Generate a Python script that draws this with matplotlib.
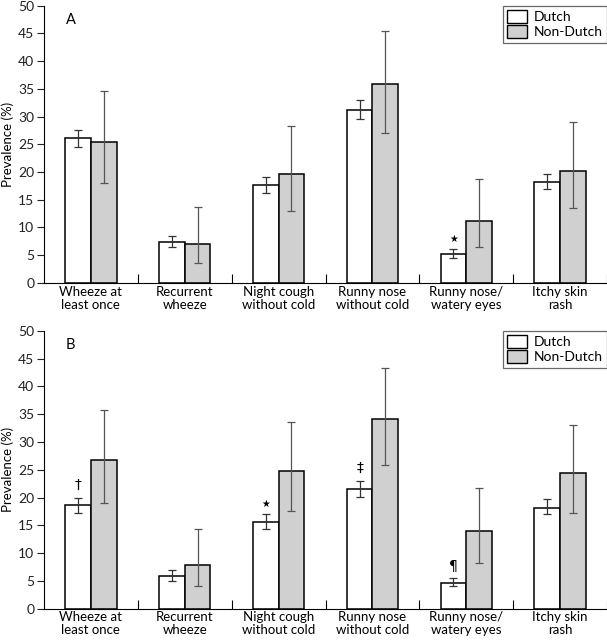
import matplotlib
matplotlib.use("Agg")
import matplotlib.pyplot as plt
import numpy as np
from matplotlib.patches import Patch

categories = ["Wheeze at\nleast once", "Recurrent\nwheeze", "Night cough\nwithout cold",
              "Runny nose\nwithout cold", "Runny nose/\nwatery eyes", "Itchy skin\nrash"]
series_names = ["Dutch", "Non-Dutch"]

# Panel A
a_dutch = [26.1, 7.4, 17.7, 31.2, 5.2, 18.2]
a_dutch_lo = [24.5, 6.5, 16.3, 29.5, 4.4, 16.9]
a_dutch_hi = [27.6, 8.4, 19.1, 33.0, 6.1, 19.7]
a_non = [25.4, 7.1, 19.6, 35.8, 11.2, 20.2]
a_non_lo = [18.0, 3.6, 13.0, 27.1, 6.4, 13.6]
a_non_hi = [34.7, 13.7, 28.3, 45.5, 18.8, 29.0]
a_marks = ["", "", "", "", "\u2605", ""]

# Panel B
b_dutch = [18.6, 5.9, 15.6, 21.5, 4.7, 18.2]
b_dutch_lo = [17.3, 5.0, 14.4, 20.1, 4.0, 17.0]
b_dutch_hi = [20.0, 6.9, 17.0, 23.0, 5.5, 19.7]
b_non = [26.8, 7.8, 24.8, 34.2, 14.0, 24.4]
b_non_lo = [19.1, 4.0, 17.6, 25.8, 8.3, 17.2]
b_non_hi = [35.7, 14.3, 33.6, 43.3, 21.7, 33.1]
b_marks = ["\u2020", "", "\u2605", "\u2021", "\u00b6", ""]

yticks = [0, 5, 10, 15, 20, 25, 30, 35, 40, 45, 50]

plt.rcParams['font.family'] = ['Lato', 'DejaVu Sans']
fig = plt.figure(figsize=(6.07, 6.40), dpi=100)

GRAY = "#d0d0d0"
W = 0.274

def panel(rect, label, d, dlo, dhi, n, nlo, nhi, marks):
    ax = fig.add_axes(rect)
    x = np.arange(len(categories))
    d = np.array(d); n = np.array(n)
    ax.bar(x - W/2, d, W, color="white", edgecolor="black", linewidth=1.1, zorder=2)
    ax.bar(x + W/2, n, W, color=GRAY, edgecolor="black", linewidth=1.1, zorder=2)
    ax.errorbar(x - W/2, d, yerr=[d - np.array(dlo), np.array(dhi) - d], fmt="none",
                ecolor="#333333", elinewidth=0.9, capsize=3, capthick=0.9, zorder=3)
    ax.errorbar(x + W/2, n, yerr=[n - np.array(nlo), np.array(nhi) - n], fmt="none",
                ecolor="#555555", elinewidth=0.9, capsize=3, capthick=0.9, zorder=3)
    for xi, m, hi in zip(x, marks, dhi):
        if m:
            ax.text(xi - W/2, hi + 1.0, m, ha="center", va="bottom",
                    fontsize=10 if m != "\u2605" else 7,
                    family=['DejaVu Sans'])
    ax.set_xlim(-0.5, 5.5)
    ax.set_ylim(0, 50)
    ax.set_yticks(yticks)
    ax.tick_params(axis="y", direction="out", length=5, width=0.8, labelsize=10, pad=2, colors="#222222")
    ax.set_xticks(np.arange(0.5, 6.0, 1.0))
    ax.set_xticklabels([])
    ax.tick_params(axis="x", which="major", direction="in", length=6.5, width=0.8)
    ax.set_xticks(x, minor=True)
    ax.set_xticklabels(categories, minor=True, fontsize=9.5, linespacing=1.1)
    ax.tick_params(axis="x", which="minor", length=0, pad=2)
    for s in ["top", "right"]:
        ax.spines[s].set_visible(False)
    ax.spines["left"].set_linewidth(0.8)
    ax.spines["bottom"].set_linewidth(0.8)
    ax.set_ylabel("Prevalence (%)", fontsize=9.5, labelpad=3)
    ax.text(-0.27, 47.5, label, ha="left", va="center", fontsize=10.5)
    handles = [Patch(facecolor="white", edgecolor="black", linewidth=1.0),
               Patch(facecolor=GRAY, edgecolor="black", linewidth=1.0)]
    leg = ax.legend(handles, series_names, loc="upper right", bbox_to_anchor=(1.0, 1.0),
                    fontsize=10, frameon=True, fancybox=False, borderaxespad=0.0,
                    handlelength=1.4, handleheight=1.1, handletextpad=0.5,
                    labelspacing=0.12, borderpad=0.3)
    leg.get_frame().set_edgecolor("#444444")
    leg.get_frame().set_linewidth(0.9)
    return ax

panel([0.0725, 0.558, 0.9275, 0.433], "A", a_dutch, a_dutch_lo, a_dutch_hi,
      a_non, a_non_lo, a_non_hi, a_marks)
panel([0.0725, 0.049, 0.9275, 0.434], "B", b_dutch, b_dutch_lo, b_dutch_hi,
      b_non, b_non_lo, b_non_hi, b_marks)

fig.savefig("out.png", dpi=100)
